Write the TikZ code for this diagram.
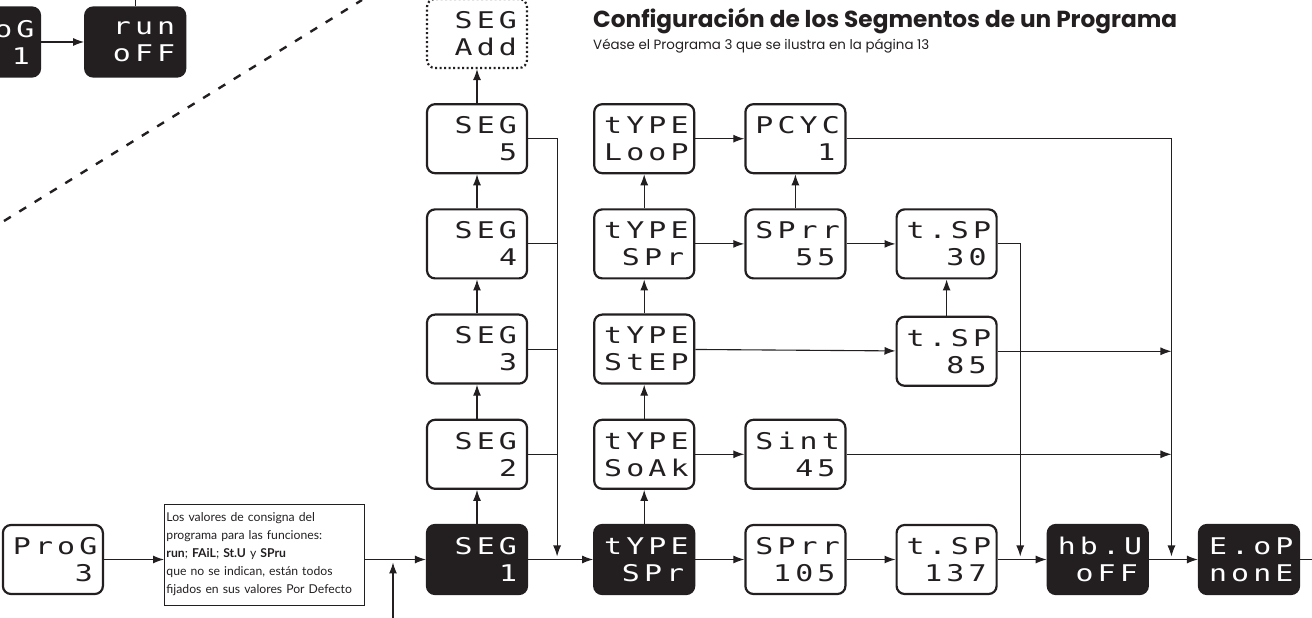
\documentclass[tikz,border=0pt]{standalone}
\usepackage{fontspec}
\setmainfont{Poppins}
\newfontfamily\notefont{Lato}
\newfontfamily\segfont[FakeStretch=1.3,LetterSpace=18]{DejaVu Sans Mono}
\usetikzlibrary{arrows.meta,positioning,calc}
\definecolor{ink}{HTML}{231F20}
\tikzset{
  >={Latex[length=11pt,width=8pt]},
  disp/.style={draw=ink, line width=2.2pt, rounded corners=8pt, minimum width=100pt,
    minimum height=69pt, text width=80pt, inner xsep=10pt, inner ysep=0pt, align=right,
    font=\segfont\fontsize{23}{27}\selectfont, text=ink},
  dispk/.style={disp, fill=ink, text=white},
  dispadd/.style={disp, dash pattern=on 2pt off 2.5pt},
  note/.style={draw=ink, line width=0.9pt, text width=196pt, align=left, inner xsep=2pt,
    inner ysep=3pt, minimum height=101pt,
    font=\notefont\fontsize{12.2}{18}\selectfont, text=ink},
  wire/.style={draw=ink, line width=1.1pt},
}

\begin{document}
\begin{tikzpicture}[x=1pt, y=1pt, node distance=34pt and 49pt]
  \useasboundingbox (0,0) rectangle (1312,618);
  \clip (0,0) rectangle (1312,618);

  % main row
  \node[dispk] (seg1) at (477,58.5) {SEG\\1};
  \node[dispk, right=65pt of seg1] (typ1) {tYPE\\SPr};
  \node[disp, right=of typ1] (sprr1) {SPrr\\105};
  \node[disp, right=of sprr1] (tsp1) {t.SP\\137};
  \node[dispk, right=of tsp1] (hbu) {hb.U\\oFF};
  \node[dispk, right=of hbu] (eop) {E.oP\\nonE};

  % segments
  \node[disp, above=of seg1] (seg2) {SEG\\2};
  \node[disp, above=of seg2] (seg3) {SEG\\3};
  \node[disp, above=of seg3] (seg4) {SEG\\4};
  \node[disp, above=of seg4] (seg5) {SEG\\5};
  \node[dispadd, above=of seg5] (segadd) {SEG\\Add};

  % segment types
  \node[disp, above=of typ1] (typ2) {tYPE\\SoAk};
  \node[disp, above=of typ2] (typ3) {tYPE\\StEP};
  \node[disp, above=of typ3] (typ4) {tYPE\\SPr};
  \node[disp, above=of typ4] (typ5) {tYPE\\LooP};
  \node[disp, right=of typ2] (sint) {Sint\\45};
  \node[disp, above=137pt of tsp1] (tsp85) {t.SP\\85};
  \node[disp, right=of typ4] (sprr2) {SPrr\\55};
  \node[disp, right=of sprr2] (tsp30) {t.SP\\30};
  \node[disp, right=of typ5] (pcyc) {PCYC\\1};

  % program entry
  \node[note, left=61pt of seg1, yshift=5pt] (note) {Los valores de consigna del\\
    programa para las funciones:\\
    \textbf{run}; \textbf{FAiL}; \textbf{St.U} y \textbf{SPru}\\
    que no se indican, están todos\\
    \mbox{fijados en sus valores Por Defecto}};
  \node[disp, left=60pt of note, yshift=-5pt] (prog) {ProG\\3};

  % previous page
  \node[dispk] (prog1) at (-10,576) {ProG\\1};
  \node[dispk, right=43pt of prog1] (run) {run\\oFF};

  \node[anchor=base west, inner sep=0pt, text=ink,
    font=\bfseries\fontsize{23.2}{27}\selectfont] (title) at (593,590)
    {Configuración de los Segmentos de un Programa};
  \node[anchor=base west, inner sep=0pt, text=ink,
    font=\fontsize{13.4}{16}\selectfont] (subt) at (593,568)
    {Véase el Programa 3 que se ilustra en la página 13};

  \coordinate (topl) at (0,618);
  \coordinate (inb) at (393,0);
  \coordinate (outr) at (1312,58.5);
  \coordinate (dsa) at (4,397);
  \coordinate (dsb) at (362,618);
  \coordinate (segj) at ($(seg1.east)+(29pt,0)$);
  \coordinate (tspj) at ($(tsp1.east)!0.46!(hbu.west)$);
  \coordinate (eopj) at ($(hbu.east)!0.46!(eop.west)$);

  \draw[wire,->] (prog1) -- (run);
  \draw[wire] (run.north) -- (run.north |- topl);
  \draw[ink, line width=2.4pt, dash pattern=on 8pt off 10pt] (dsa) -- (dsb);

  \draw[wire,->] (prog) -- (prog.east -| note.west);
  \draw[wire,->] (note.east |- seg1) -- (seg1);
  \draw[wire,->] (inb) -- ($(inb |- seg1)+(0,-3pt)$);

  \foreach \a/\b in {seg1/seg2,seg2/seg3,seg3/seg4,seg4/seg5,seg5/segadd,
      typ1/typ2,typ2/typ3,typ3/typ4,typ4/typ5,tsp85/tsp30,sprr2/pcyc,
      seg1/typ1,typ1/sprr1,sprr1/tsp1,tsp1/hbu,hbu/eop,
      typ2/sint,typ3/tsp85,typ4/sprr2,sprr2/tsp30,typ5/pcyc}
    \draw[wire,->] (\a) -- (\b);

  \foreach \s in {seg2,seg3,seg4}
    \draw[wire] (\s.east) -- (\s.east -| segj);
  \draw[wire,->,shorten >=3pt] (seg5.east) -| (segj);
  \draw[wire,->,shorten >=3pt] (tsp30.east) -| (tspj);
  \draw[wire,->,shorten >=3pt] (pcyc.east) -| (eopj);
  \draw[wire,->] (sint.east) -- (sint.east -| eopj);
  \draw[wire,->] (tsp85.east) -- (tsp85.east -| eopj);
  \draw[wire] (eop) -- (outr);
\end{tikzpicture}
\end{document}
